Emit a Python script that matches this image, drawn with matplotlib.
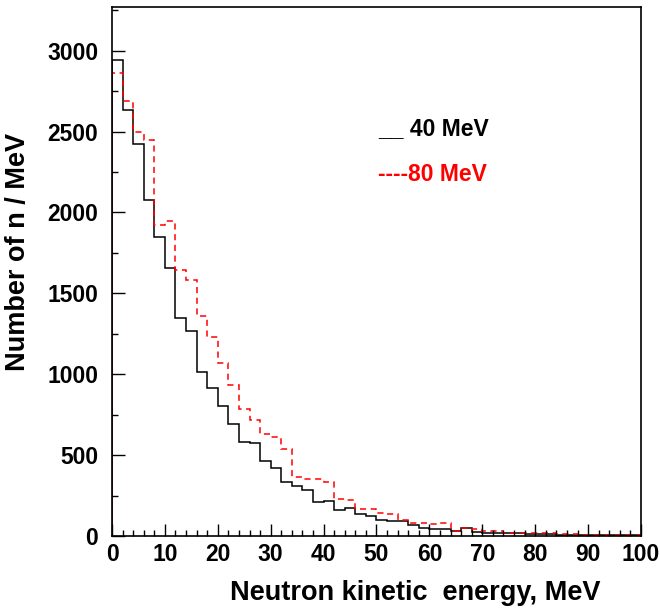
import numpy as np
import matplotlib
matplotlib.use('Agg')
import matplotlib.pyplot as plt
from matplotlib.ticker import MultipleLocator

plt.rcParams['font.family'] = ['Liberation Sans', 'DejaVu Sans']
plt.rcParams['font.weight'] = 'bold'

# ── Data: neutron spectra, 2 MeV bins from 0 to 100 MeV ─────────
bin_edges = np.arange(0, 102, 2)

counts_40 = [2944, 2634, 2424, 2078, 1847, 1657, 1346, 1268, 1012, 917,
             802, 695, 583, 573, 464, 418, 336, 309, 284, 210,
             216, 161, 171, 134, 124, 99, 93, 93, 68, 52,
             41, 41, 29, 47, 25, 21, 21, 16, 16, 14,
             14, 12, 8, 6, 6, 4, 4, 4, 4, 4]

counts_80 = [2861, 2688, 2497, 2445, 1925, 1948, 1643, 1583, 1359, 1233,
             1068, 932, 784, 717, 631, 610, 536, 365, 352, 352,
             336, 229, 223, 167, 165, 140, 134, 99, 82, 78,
             74, 78, 33, 52, 41, 33, 31, 21, 18, 16,
             16, 16, 12, 10, 8, 6, 4, 4, 4, 4]

# ── Plot ────────────────────────────────────────────────────────
fig = plt.figure(figsize=(6.6, 6.09), dpi=100)
ax = fig.add_axes([0.1697, 0.1199, 0.8015, 0.8686])

ax.stairs(counts_40, bin_edges, baseline=0, color='black', linewidth=1.1)
ax.stairs(counts_80, bin_edges, baseline=0, color='red', linewidth=1.1,
          linestyle=(0, (4, 3)))

ax.set_xlim(0, 100)
ax.set_ylim(0, 3270)

ax.xaxis.set_major_locator(MultipleLocator(10))
ax.xaxis.set_minor_locator(MultipleLocator(2))
ax.yaxis.set_major_locator(MultipleLocator(500))
ax.yaxis.set_minor_locator(MultipleLocator(250))

ax.tick_params(which='both', direction='in', top=False, right=False,
               labelsize=16.5, width=1.0)
ax.tick_params(axis='x', which='major', length=9, pad=5)
ax.tick_params(axis='x', which='minor', length=4.5)
ax.tick_params(axis='y', which='major', length=9.5, pad=10)
ax.tick_params(axis='y', which='minor', length=4.5)
for lab in ax.get_xticklabels() + ax.get_yticklabels():
    lab.set_fontweight('bold')

for spine in ax.spines.values():
    spine.set_linewidth(1.2)

ax.set_xlabel('Neutron kinetic  energy, MeV', fontsize=19.5, fontweight='bold')
ax.set_ylabel('Number of n / MeV', fontsize=19.5, fontweight='bold')
ax.xaxis.set_label_coords(0.573, -0.083)
ax.yaxis.set_label_coords(-0.153, 0.537)

ax.text(0.503, 0.770, '__ 40 MeV', transform=ax.transAxes, fontsize=16.5,
        fontweight='bold', color='black', ha='left', va='center')
ax.text(0.503, 0.684, '----80 MeV', transform=ax.transAxes, fontsize=16.5,
        fontweight='bold', color='red', ha='left', va='center')

plt.savefig('out.png', dpi=100)
plt.close()
